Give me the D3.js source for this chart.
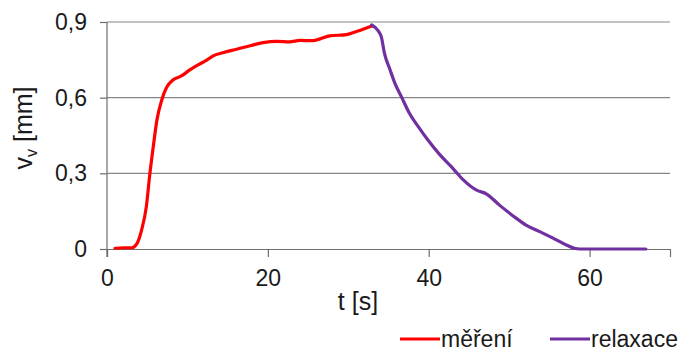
<!DOCTYPE html>
<html>
<head>
<meta charset="utf-8">
<script src="https://cdn.jsdelivr.net/npm/d3@7"></script>
<style>
  body { margin: 0; background: #fff; }
  svg { display: block; font-family: "Liberation Sans", Arial, sans-serif; }
</style>
</head>
<body>
<svg id="chart" width="690" height="352"></svg>
<script>
// series: time [s] and displacement [mm]
const mereniT = [1.0, 2.0, 3.1, 3.7, 4.3, 4.9, 5.3, 5.75, 6.2, 6.8, 7.4, 8.2, 9.25, 10.3, 11.5, 12.4, 13.2, 14.4, 16.1, 17.8, 19.4, 21.1, 22.7, 24.0, 25.6, 26.5, 27.7, 29.8, 31.0, 32.0, 33.0];
const mereniV = [0.003, 0.005, 0.005, 0.02, 0.075, 0.17, 0.29, 0.405, 0.51, 0.59, 0.64, 0.67, 0.686, 0.71, 0.733, 0.749, 0.766, 0.778, 0.792, 0.806, 0.818, 0.823, 0.821, 0.827, 0.826, 0.833, 0.845, 0.85, 0.862, 0.873, 0.885];

const relaxaceT = [32.9, 33.7, 34.1, 34.5, 35.2, 35.8, 36.6, 37.6, 38.7, 39.9, 41.4, 43.0, 44.3, 45.9, 47.2, 48.8, 50.5, 52.1, 53.8, 55.4, 57.1, 58.1, 58.8, 67.0];
const relaxaceV = [0.888, 0.866, 0.842, 0.776, 0.71, 0.657, 0.604, 0.538, 0.485, 0.432, 0.373, 0.32, 0.274, 0.234, 0.218, 0.174, 0.131, 0.095, 0.069, 0.044, 0.016, 0.003, 0, 0];

const xTicks = [0, 20, 40, 60];
const yTicks = [0, 0.3, 0.6, 0.9];
const legendLabels = ["měření", "relaxace"];
const colors = ["#ff0000", "#7030a0"];

const svg = d3.select("#chart");
const margin = { left: 107, right: 20, top: 22, bottom: 103 };
const w = 690 - margin.left - margin.right;
const h = 352 - margin.top - margin.bottom;

const x = d3.scaleLinear().domain([0, 70]).range([0, w]);
const y = d3.scaleLinear().domain([0, 0.9]).range([h, 0]);

const g = svg.append("g").attr("transform", `translate(${margin.left},${margin.top})`);

// horizontal gridlines
g.append("g")
  .selectAll("line")
  .data(yTicks.filter((d) => d > 0))
  .join("line")
  .attr("x1", 0)
  .attr("x2", w)
  .attr("y1", (d) => y(d))
  .attr("y2", (d) => y(d))
  .attr("stroke", "#868686")
  .attr("stroke-width", 1.2);

const fmt = (d) => (d === 0 ? "0" : d3.format(".1f")(d).replace(".", ","));

const yAxis = g.append("g")
  .call(d3.axisLeft(y).tickValues(yTicks).tickSize(7).tickFormat(fmt));
const xAxis = g.append("g")
  .attr("transform", `translate(0,${h})`)
  .call(d3.axisBottom(x).tickValues(xTicks).tickSize(8).tickFormat((d) => d));

[yAxis, xAxis].forEach((a) => {
  a.select(".domain").attr("stroke", "#6e6e6e").attr("stroke-width", 1.2);
  a.selectAll(".tick line").attr("stroke", "#6e6e6e").attr("stroke-width", 1.2);
  a.selectAll("text")
    .attr("fill", "#1a1a1a")
    .style("font-size", "23px")
    .style("font-family", "Liberation Sans, Arial, sans-serif");
});
yAxis.selectAll("text").attr("x", -20);
xAxis.selectAll("text").attr("dy", null).attr("y", 37);
// y axis extends a little below the zero line like the original
yAxis.select(".domain").attr("d", `M0,${h + 8}V0`);

const line = d3.line()
  .x((d) => x(d[0]))
  .y((d) => y(d[1]))
  .curve(d3.curveMonotoneX);

const series = [
  d3.zip(mereniT, mereniV),
  d3.zip(relaxaceT, relaxaceV),
];

series.forEach((s, i) => {
  g.append("path")
    .datum(s)
    .attr("fill", "none")
    .attr("stroke", colors[i])
    .attr("stroke-width", 3.2)
    .attr("stroke-linejoin", "round")
    .attr("stroke-linecap", "round")
    .attr("d", line);
});

// axis titles
svg.append("text")
  .attr("x", 358)
  .attr("y", 310)
  .attr("text-anchor", "middle")
  .attr("fill", "#1a1a1a")
  .style("font-size", "25px")
  .text("t [s]");

const yTitle = svg.append("text")
  .attr("transform", "translate(32,128) rotate(-90)")
  .attr("text-anchor", "middle")
  .attr("fill", "#1a1a1a")
  .style("font-size", "25px");
yTitle.append("tspan").text("v");
yTitle.append("tspan").attr("dy", 5).style("font-size", "16px").text("v");
yTitle.append("tspan").attr("dy", -5).text(" [mm]");

// legend
const legend = svg.append("g").attr("transform", "translate(0,339)");
const legendX = [400, 550];
legendLabels.forEach((label, i) => {
  legend.append("line")
    .attr("x1", legendX[i])
    .attr("x2", legendX[i] + 40)
    .attr("y1", 0)
    .attr("y2", 0)
    .attr("stroke", colors[i])
    .attr("stroke-width", 3.2);
  legend.append("text")
    .attr("x", legendX[i] + 41)
    .attr("y", 8)
    .attr("fill", "#1a1a1a")
    .style("font-size", "23px")
    .text(label);
});
</script>
</body>
</html>
